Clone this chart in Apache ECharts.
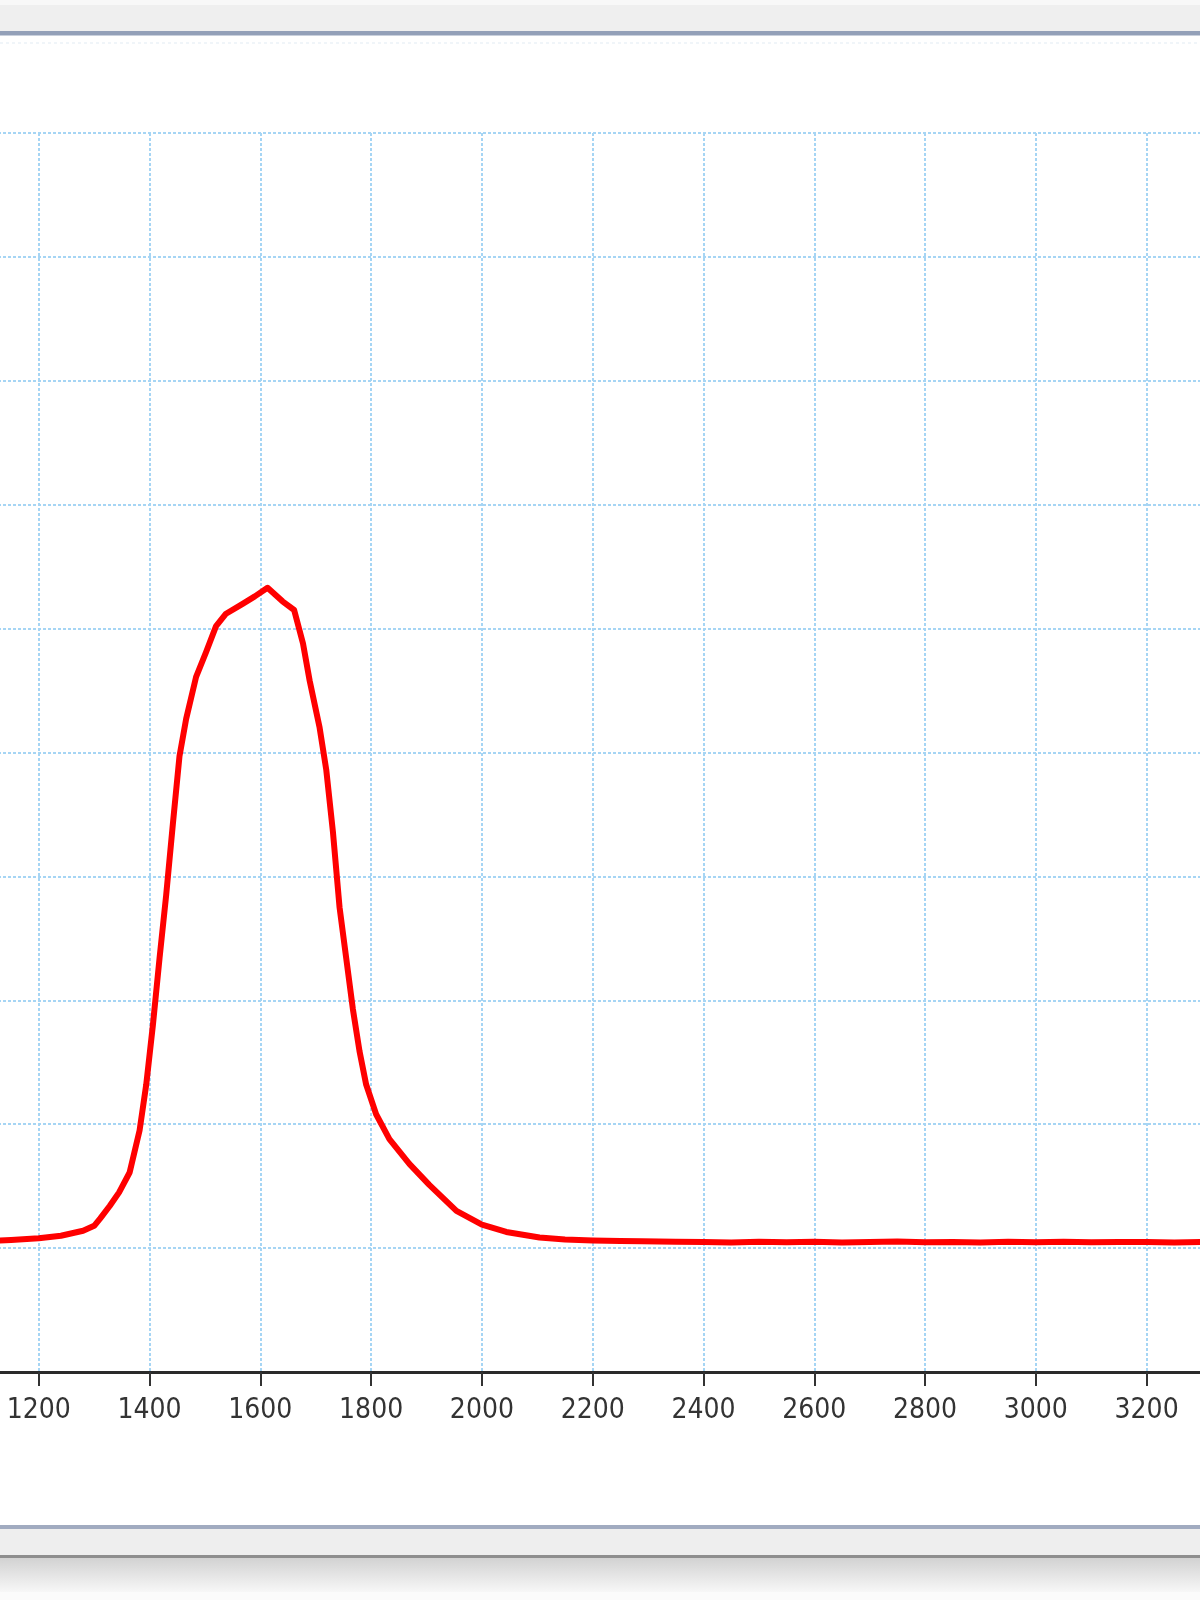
<!DOCTYPE html>
<html>
<head>
<meta charset="utf-8">
<script src="https://cdn.jsdelivr.net/npm/echarts@6/dist/echarts.min.js"></script>
<style>
  html, body { margin: 0; padding: 0; background: #ffffff; }
  #chart { width: 1200px; height: 1600px; }
</style>
</head>
<body>
<div id="chart"></div>
<script>
// Wavelength / x positions of the traced curve
const xValues = [
  1125, 1150, 1200, 1240, 1280, 1300, 1311, 1328, 1345, 1364,
  1382, 1394, 1406, 1418, 1430, 1442, 1454, 1466, 1484, 1502,
  1520, 1538, 1568, 1590, 1613, 1640, 1661, 1677, 1689, 1707,
  1719, 1731, 1743, 1755, 1767, 1779, 1791, 1809, 1833, 1869,
  1905, 1954, 2000, 2044, 2104, 2150, 2200, 2250, 2289, 2350,
  2400, 2450, 2500, 2550, 2600, 2650, 2700, 2750, 2800, 2850,
  2900, 2950, 3000, 3050, 3100, 3150, 3200, 3250, 3300
];
// Signal values (grid units)
const yValues = [
  1.060, 1.066, 1.080, 1.100, 1.140, 1.180, 1.240, 1.340, 1.450, 1.610,
  1.950, 2.320, 2.800, 3.340, 3.850, 4.420, 4.970, 5.270, 5.610, 5.810,
  6.020, 6.120, 6.200, 6.260, 6.330, 6.220, 6.150, 5.880, 5.580, 5.200,
  4.860, 4.360, 3.750, 3.340, 2.930, 2.590, 2.320, 2.080, 1.880, 1.680,
  1.510, 1.300, 1.190, 1.130, 1.085, 1.070, 1.062, 1.058, 1.056, 1.052,
  1.050, 1.046, 1.052, 1.048, 1.051, 1.045, 1.049, 1.053, 1.047, 1.050,
  1.046, 1.051, 1.048, 1.052, 1.047, 1.050, 1.049, 1.046, 1.050
];
// X axis tick labels
const xTickMin = 1000;
const xTickMax = 3400;
const xTickStep = 200;
// Y axis range (grid units, no labels shown)
const yMin = 0;
const yMax = 10;
const yStep = 1;

const seriesData = xValues.map((x, i) => [x, yValues[i]]);

const gridLine = { color: '#a6d5f4', width: 2, type: [3, 2] };

const chart = echarts.init(document.getElementById('chart'), null, { renderer: 'canvas' });
chart.setOption({
  backgroundColor: '#ffffff',
  animation: false,
  grid: {
    left: -72, right: -57.4, top: 133, bottom: 228,
    containLabel: false,
    outerBoundsMode: 'none'
  },
  xAxis: {
    type: 'value',
    min: xTickMin,
    max: xTickMax,
    interval: xTickStep,
    axisLine: { show: true, onZero: false, lineStyle: { color: '#2a2a2a', width: 3 } },
    axisTick: { show: true, length: 14, lineStyle: { color: '#333333', width: 2 } },
    axisLabel: {
      show: true,
      margin: 25,
      color: '#333333',
      fontSize: 28,
      fontFamily: '"Liberation Sans Narrow", "DejaVu Sans Condensed", "Liberation Sans", sans-serif',
      formatter: function (v) { return String(v); }
    },
    splitLine: { show: true, lineStyle: gridLine }
  },
  yAxis: {
    type: 'value',
    min: yMin,
    max: yMax,
    interval: yStep,
    axisLine: { show: false },
    axisTick: { show: false },
    axisLabel: { show: false },
    splitLine: { show: true, lineStyle: gridLine }
  },
  series: [{
    type: 'line',
    data: seriesData,
    showSymbol: false,
    smooth: false,
    lineStyle: { color: '#ff0000', width: 6, join: 'round', cap: 'round' },
    z: 5
  }],
  graphic: [
    { type: 'rect', shape: { x: 0, y: 0, width: 1200, height: 5 }, style: { fill: '#f8f8f8' }, silent: true },
    { type: 'rect', shape: { x: 0, y: 5, width: 1200, height: 26 }, style: { fill: '#efefef' }, silent: true },
    { type: 'rect', shape: { x: 0, y: 31, width: 1200, height: 4 }, style: { fill: '#93a0b8' }, silent: true },
    { type: 'rect', shape: { x: 0, y: 35, width: 1200, height: 1 }, style: { fill: '#c9d0dc' }, silent: true },
    { type: 'line', shape: { x1: 0, y1: 43, x2: 1200, y2: 43 }, style: { stroke: '#e1ebf3', lineWidth: 1, lineDash: [3, 3] }, silent: true },
    { type: 'rect', shape: { x: 0, y: 1525, width: 1200, height: 4 }, style: { fill: '#a1abc0' }, silent: true },
    { type: 'rect', shape: { x: 0, y: 1529, width: 1200, height: 26 }, style: { fill: '#eeeeee' }, silent: true },
    { type: 'rect', shape: { x: 0, y: 1555, width: 1200, height: 3 }, style: { fill: '#8e8e8e' }, silent: true },
    {
      type: 'rect', shape: { x: 0, y: 1558, width: 1200, height: 34 },
      style: {
        fill: new echarts.graphic.LinearGradient(0, 0, 0, 1, [
          { offset: 0, color: '#d2d2d2' },
          { offset: 1, color: '#f7f7f7' }
        ])
      },
      silent: true
    },
    { type: 'rect', shape: { x: 0, y: 1592, width: 1200, height: 8 }, style: { fill: '#fbfbfb' }, silent: true }
  ]
});
</script>
</body>
</html>
